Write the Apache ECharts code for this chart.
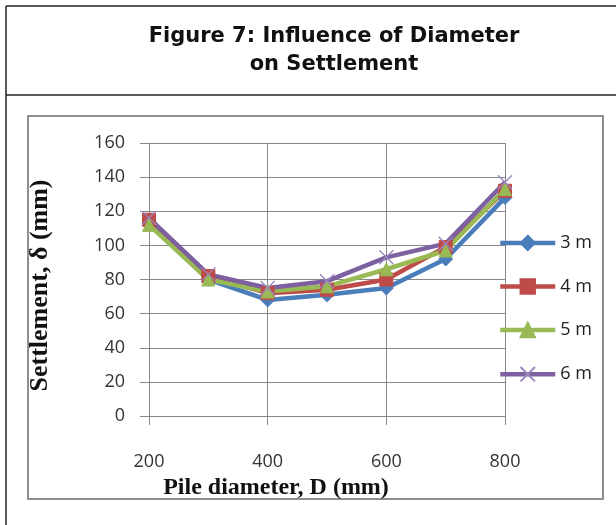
<!DOCTYPE html>
<html>
<head>
<meta charset="utf-8">
<script src="https://cdn.jsdelivr.net/npm/echarts@6/dist/echarts.min.js"></script>
<style>
  html, body { margin: 0; padding: 0; background: #fff; }
  #chart { width: 616px; height: 525px; }
</style>
</head>
<body>
<div id="chart"></div>
<script>
// pile diameter D (mm)
var diameters = [200, 300, 400, 500, 600, 700, 800];
var seriesNames = ['3 m', '4 m', '5 m', '6 m'];
var s3m = [113, 80, 68, 71, 75, 92, 128];
var s4m = [115, 82, 72, 74, 80, 99, 132];
var s5m = [112, 80, 73, 76, 86, 97, 133];
var s6m = [116, 83, 75, 79, 93, 101, 137];
var colors = ['#4A7EBB', '#BE4B48', '#98B954', '#7D60A0'];
var symbols = ['diamond', 'rect', 'triangle', 'path://M0,0L10,10M10,0L0,10'];
var sizes = [14, 13, 13, 14];

var chart = echarts.init(document.getElementById('chart'));

function pairs(vals) {
    return diameters.map(function (d, i) { return [d, vals[i]]; });
}

var allVals = [s3m, s4m, s5m, s6m];
var series = allVals.map(function (vals, i) {
    var isX = i === 3;
    return {
        name: seriesNames[i],
        type: 'line',
        data: pairs(vals),
        symbol: symbols[i],
        symbolSize: sizes[i],
        lineStyle: { color: colors[i], width: 4.5 },
        itemStyle: isX
            ? { color: 'none', borderColor: '#9A86BE', borderWidth: 1.3 }
            : { color: colors[i], borderColor: colors[i], borderWidth: 1 }
    };
});

var gray = '#878787';
var serif = '"Liberation Serif", serif';

var option = {
    animation: false,
    graphic: [
        // table lines
        { type: 'line', shape: { x1: 6, y1: 6, x2: 616, y2: 6 }, style: { stroke: '#222', lineWidth: 1.5 } },
        { type: 'line', shape: { x1: 6, y1: 95, x2: 616, y2: 95 }, style: { stroke: '#222', lineWidth: 1.5 } },
        { type: 'line', shape: { x1: 6, y1: 6, x2: 6, y2: 525 }, style: { stroke: '#222', lineWidth: 1.5 } },
        // chart frame
        { type: 'rect', shape: { x: 28, y: 116, width: 575, height: 383 }, style: { fill: 'none', stroke: '#8e8e8e', lineWidth: 2 }, z: -1 },
        {
            type: 'text', x: 334, y: 23,
            style: {
                text: 'Figure 7: Influence of Diameter\non Settlement',
                font: 'bold 21px "DejaVu Sans"',
                fill: '#111', align: 'center', lineHeight: 28
            }
        }
    ],
    legend: {
        orient: 'vertical',
        left: 498,
        top: 234,
        padding: 0,
        itemWidth: 55,
        itemHeight: 18,
        itemGap: 25.5,
        itemTextGap: 4,
        data: seriesNames,
        lineStyle: { width: 4.5 },
        textStyle: { fontFamily: 'Open Sans', fontSize: 18, color: '#222' }
    },
    grid: { left: 149, right: 111, top: 143, bottom: 109 },
    xAxis: {
        type: 'value',
        min: 200, max: 800, interval: 200,
        name: 'Pile diameter, D (mm)',
        nameLocation: 'middle',
        nameGap: 57,
        nameTextStyle: { fontFamily: serif, fontWeight: 'bold', fontSize: 24, color: '#111', padding: [0, 102, 0, 0] },
        axisLine: { lineStyle: { color: gray } },
        axisTick: { show: true, length: 9, lineStyle: { color: gray } },
        splitLine: { show: true, lineStyle: { color: gray } },
        axisLabel: { margin: 37, fontFamily: 'Open Sans', fontSize: 18, color: '#333' }
    },
    yAxis: {
        type: 'value',
        min: 0, max: 160, interval: 20,
        name: 'Settlement, \u03b4 (mm)',
        nameLocation: 'middle',
        nameGap: 96,
        nameTextStyle: { fontFamily: serif, fontWeight: 'bold', fontSize: 26, color: '#111', padding: [0, 12, 0, 0] },
        axisLine: { show: true, lineStyle: { color: gray } },
        axisTick: { show: true, length: 9, lineStyle: { color: gray } },
        splitLine: { show: true, lineStyle: { color: gray } },
        axisLabel: { margin: 24, fontFamily: 'Open Sans', fontSize: 18, color: '#333' }
    },
    series: series
};

chart.setOption(option);
</script>
</body>
</html>
